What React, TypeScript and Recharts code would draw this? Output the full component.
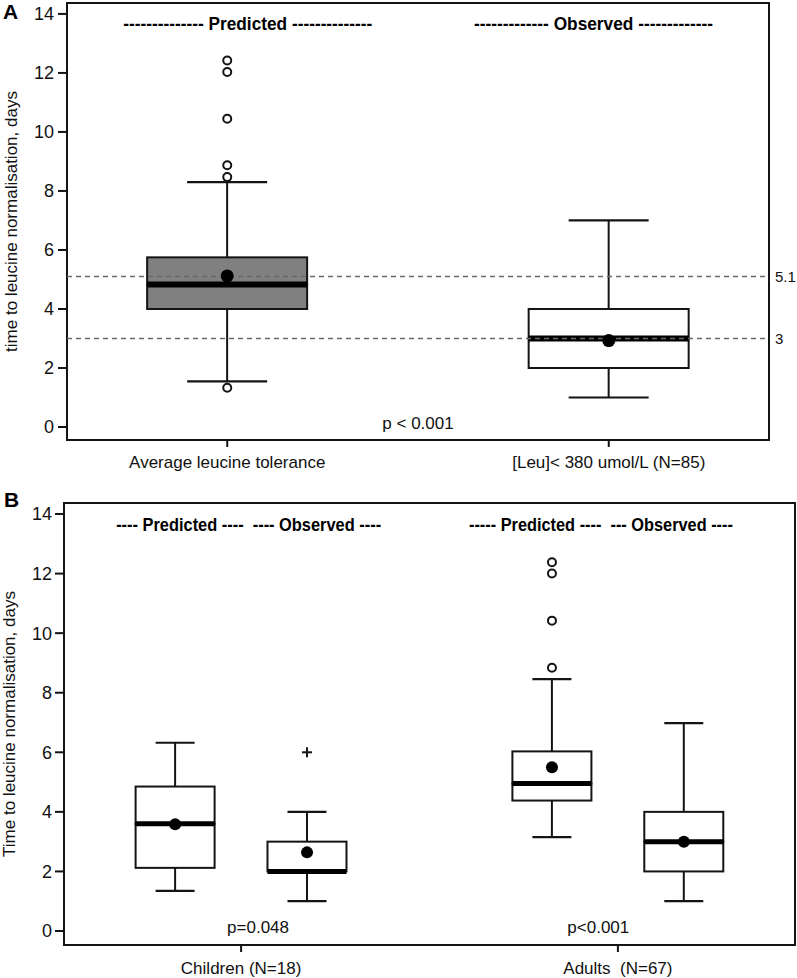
import React from 'react';
import { ComposedChart, Bar, Scatter, XAxis, YAxis, ReferenceLine, ReferenceArea } from 'recharts';

// ---------------- Panel A data ----------------
const categoriesA = ['Average leucine tolerance', '[Leu]< 380 umol/L (N=85)'];
const kindsA = ['Predicted', 'Observed'];
const headersA = ['-------------- Predicted --------------', '------------- Observed -------------'];
const minA = [1.55, 1.0];
const q1A = [4.0, 2.0];
const medianA = [4.83, 3.0];
const q3A = [5.75, 4.0];
const maxA = [8.3, 7.0];
const meanA = [5.12, 2.93];
const outliersA = [1.33, 8.47, 8.87, 10.45, 12.03, 12.42]; // Predicted group
const refValuesA = [5.1, 3];
const refLabelsA = ['5.1', '3'];
const pValueA = 'p < 0.001';

// ---------------- Panel B data ----------------
const categoriesB = ['Children (N=18)', 'Adults \u00a0(N=67)'];
const headersB = ['---- Predicted ----  ---- Observed ----', '----- Predicted ----  --- Observed ----'];
const groupB = [0, 0, 1, 1];
const kindB = ['Predicted', 'Observed', 'Predicted', 'Observed'];
const minB = [1.35, 1.0, 3.15, 1.0];
const q1B = [2.12, 2.0, 4.38, 2.0];
const medianB = [3.6, 2.0, 4.95, 3.0];
const q3B = [4.85, 3.0, 6.03, 4.0];
const maxB = [6.32, 4.0, 8.46, 6.98];
const meanB = [3.58, 2.64, 5.5, 3.0];
const outlierCirclesB = [8.84, 10.42, 12.0, 12.38]; // Adults, Predicted
const outlierPlusB = [6.0]; // Children, Observed
const pValuesB = ['p=0.048', 'p<0.001'];

const yTicks = [0, 2, 4, 6, 8, 10, 12, 14];

// ---------------- layout / style constants ----------------
const INK = '#141414';
const X_DOMAIN_A: [number, number] = [-0.42, 1.42];
const X_DOMAIN_B: [number, number] = [-0.47, 1.47];
const Y_DOMAIN_A: [number, number] = [-0.44, 14.37];
const Y_DOMAIN_B: [number, number] = [-0.47, 14.37];
const kindOffsetB: Record<string, number> = { Predicted: -0.175, Observed: 0.175 };
const fillA: Record<string, string> = { Predicted: '#808080', Observed: '#ffffff' };
const fillB: Record<string, string> = { Predicted: '#ffffff', Observed: '#ffffff' };
const headerXA = [0.054, 0.96];
const headerWidthA = [249, 239];
const headerXB = [0.02, 0.955];
const headerWidthB = [265, 264];
const headerY = 13.66;
const pX_A = 0.5;
const pX_B = [0.045, 0.948];
const pY = 0.13;

// ---------------- table building ----------------
function buildRow(x: number, kind: string, mn: number, q1: number, md: number, q3: number, mx: number, mean: number) {
  return {
    x,
    kind,
    base: mn,
    wLow: q1 - mn,
    boxLow: md - q1,
    boxHigh: q3 - md,
    wHigh: mx - q3,
    mean,
  };
}

const rowsA = categoriesA.map((_, i) => buildRow(i, kindsA[i], minA[i], q1A[i], medianA[i], q3A[i], maxA[i], meanA[i]));
const rowsB = groupB.map((g, i) =>
  buildRow(g + kindOffsetB[kindB[i]], kindB[i], minB[i], q1B[i], medianB[i], q3B[i], maxB[i], meanB[i])
);

const outlierPtsA = outliersA.map((y) => ({ x: 0, y }));
const outlierPtsB = outlierCirclesB.map((y) => ({ x: 1 + kindOffsetB.Predicted, y }));
const plusPtsB = outlierPlusB.map((y) => ({ x: 0 + kindOffsetB.Observed, y }));

const headerPtsA = headersA.map((t, i) => ({ x: headerXA[i], y: headerY, label: t, w: headerWidthA[i] }));
const headerPtsB = headersB.map((t, i) => ({ x: headerXB[i], y: headerY - 0.04, label: t, w: headerWidthB[i] }));
const pPtsA = [{ x: pX_A, y: pY, label: pValueA }];
const pPtsB = pValuesB.map((t, i) => ({ x: pX_B[i], y: pY, label: t }));

// ---------------- shapes ----------------
const emptyShape = () => <g />;

const makeWhisker = (cap: number, end: 'top' | 'bottom') => (p: any) => {
  if (p.height == null || p.width == null || p.x == null) return <g />;
  const cx = p.x + p.width / 2;
  const yEnd = end === 'top' ? p.y : p.y + p.height;
  return (
    <g>
      <line x1={cx} x2={cx} y1={p.y} y2={p.y + p.height} stroke={INK} strokeWidth={2} />
      <line x1={cx - cap / 2} x2={cx + cap / 2} y1={yEnd} y2={yEnd} stroke={INK} strokeWidth={2.2} />
    </g>
  );
};

const makeBox = (fills: Record<string, string>, boxW: number, medianW: number, withMedian: boolean) => (p: any) => {
  if (p.height == null || p.width == null || p.x == null) return <g />;
  const cx = p.x + p.width / 2;
  const left = cx - boxW / 2;
  const fill = fills[p.payload?.kind] ?? '#fff';
  return (
    <g>
      <rect x={left} y={p.y} width={boxW} height={Math.max(0, p.height)} fill={fill} stroke={INK} strokeWidth={2} />
      {withMedian && (
        <line x1={left} x2={left + boxW} y1={p.y + p.height} y2={p.y + p.height} stroke="#000" strokeWidth={medianW} />
      )}
    </g>
  );
};

const makeDot = (r: number) => (p: any) => <circle cx={p.cx} cy={p.cy} r={r} fill="#000" />;
const openCircle = (p: any) => <circle cx={p.cx} cy={p.cy} r={4} fill="#fff" stroke={INK} strokeWidth={2} />;
const plusShape = (p: any) => (
  <g stroke={INK} strokeWidth={2}>
    <line x1={p.cx - 5} x2={p.cx + 5} y1={p.cy} y2={p.cy} />
    <line x1={p.cx} x2={p.cx} y1={p.cy - 5} y2={p.cy + 5} />
  </g>
);
const headerShape = (p: any) => (
  <text
    x={p.cx}
    y={p.cy}
    textAnchor="middle"
    dominantBaseline="central"
    fontSize={18}
    fontWeight="bold"
    fill="#000"
    textLength={p.payload.w}
    lengthAdjust="spacingAndGlyphs"
    style={{ whiteSpace: 'pre', fontFamily: "'Liberation Sans', Arial, sans-serif" }}
  >
    {p.payload.label}
  </text>
);
const pShape = (p: any) => (
  <text x={p.cx} y={p.cy} textAnchor="middle" dominantBaseline="central" fontSize={17} fill="#111">
    {p.payload.label}
  </text>
);

const tickLine = { stroke: INK, strokeWidth: 2 };

export default function App() {
  return (
    <div
      style={{
        position: 'absolute',
        left: 0,
        top: 0,
        width: 797,
        height: 978,
        background: '#fff',
        fontFamily: "'Liberation Sans', Arial, sans-serif",
        overflow: 'hidden',
      }}
    >
      {/* Panel A */}
      <div style={{ position: 'absolute', left: 0, top: 0 }}>
        <ComposedChart width={797} height={478} data={rowsA} margin={{ top: 3, right: 28, bottom: 8, left: 7 }}>
          <XAxis
            dataKey="x"
            type="number"
            domain={X_DOMAIN_A}
            allowDataOverflow
            ticks={[0, 1]}
            interval={0}
            tickFormatter={(v: number) => categoriesA[v] ?? ''}
            axisLine={false}
            tickLine={tickLine}
            tickSize={7}
            tickMargin={9}
            tick={{ fill: '#111', fontSize: 17 }}
            height={30}
          />
          <YAxis
            type="number"
            domain={Y_DOMAIN_A}
            allowDataOverflow
            ticks={yTicks}
            interval={0}
            width={60}
            axisLine={false}
            tickLine={tickLine}
            tickSize={9}
            tickMargin={4}
            tick={{ fill: '#111', fontSize: 18 }}
            label={{
              value: 'time to leucine normalisation, days',
              angle: -90,
              position: 'insideLeft',
              offset: 4,
              style: { textAnchor: 'middle', fontSize: 17, fill: '#111' },
            }}
          />
          <Bar dataKey="base" stackId="s" shape={emptyShape} isAnimationActive={false} />
          <Bar dataKey="wLow" stackId="s" shape={makeWhisker(80, 'bottom')} isAnimationActive={false} />
          <Bar dataKey="boxLow" stackId="s" shape={makeBox(fillA, 160, 6, false)} isAnimationActive={false} />
          <Bar dataKey="boxHigh" stackId="s" shape={makeBox(fillA, 160, 6, true)} isAnimationActive={false} />
          <Bar dataKey="wHigh" stackId="s" shape={makeWhisker(80, 'top')} isAnimationActive={false} />
          {refValuesA.map((v, i) => (
            <ReferenceLine
              key={v}
              y={v}
              stroke="#6a6a6a"
              strokeWidth={1.6}
              strokeDasharray="5 4"
              label={{ value: refLabelsA[i], position: 'right', offset: 6, fill: '#111', fontSize: 15 }}
            />
          ))}
          <Scatter dataKey="mean" shape={makeDot(6.5)} isAnimationActive={false} />
          <Scatter data={outlierPtsA} dataKey="y" shape={openCircle} isAnimationActive={false} />
          <Scatter data={headerPtsA} dataKey="y" shape={headerShape} isAnimationActive={false} />
          <Scatter data={pPtsA} dataKey="y" shape={pShape} isAnimationActive={false} />
          <ReferenceArea
            x1={X_DOMAIN_A[0]}
            x2={X_DOMAIN_A[1]}
            y1={Y_DOMAIN_A[0]}
            y2={Y_DOMAIN_A[1]}
            fill="none"
            stroke={INK}
            strokeWidth={2}
            ifOverflow="visible"
          />
        </ComposedChart>
      </div>

      {/* Panel B */}
      <div style={{ position: 'absolute', left: 0, top: 478 }}>
        <ComposedChart width={797} height={500} data={rowsB} margin={{ top: 25, right: 2, bottom: 3, left: 4 }}>
          <XAxis
            dataKey="x"
            type="number"
            domain={X_DOMAIN_B}
            allowDataOverflow
            ticks={[0, 1]}
            interval={0}
            tickFormatter={(v: number) => categoriesB[v] ?? ''}
            axisLine={false}
            tickLine={tickLine}
            tickSize={7}
            tickMargin={10}
            tick={{ fill: '#111', fontSize: 17 }}
            height={30}
          />
          <YAxis
            type="number"
            domain={Y_DOMAIN_B}
            allowDataOverflow
            ticks={yTicks}
            interval={0}
            width={60}
            axisLine={false}
            tickLine={tickLine}
            tickSize={9}
            tickMargin={3}
            tick={{ fill: '#111', fontSize: 18 }}
            label={{
              value: 'Time to leucine normalisation, days',
              angle: -90,
              position: 'insideLeft',
              offset: 5,
              style: { textAnchor: 'middle', fontSize: 17, fill: '#111' },
            }}
          />
          <Bar dataKey="base" stackId="s" shape={emptyShape} isAnimationActive={false} />
          <Bar dataKey="wLow" stackId="s" shape={makeWhisker(39, 'bottom')} isAnimationActive={false} />
          <Bar dataKey="boxLow" stackId="s" shape={makeBox(fillB, 79, 5, false)} isAnimationActive={false} />
          <Bar dataKey="boxHigh" stackId="s" shape={makeBox(fillB, 79, 5, true)} isAnimationActive={false} />
          <Bar dataKey="wHigh" stackId="s" shape={makeWhisker(39, 'top')} isAnimationActive={false} />
          <Scatter dataKey="mean" shape={makeDot(6)} isAnimationActive={false} />
          <Scatter data={outlierPtsB} dataKey="y" shape={openCircle} isAnimationActive={false} />
          <Scatter data={plusPtsB} dataKey="y" shape={plusShape} isAnimationActive={false} />
          <Scatter data={headerPtsB} dataKey="y" shape={headerShape} isAnimationActive={false} />
          <Scatter data={pPtsB} dataKey="y" shape={pShape} isAnimationActive={false} />
          <ReferenceArea
            x1={X_DOMAIN_B[0]}
            x2={X_DOMAIN_B[1]}
            y1={Y_DOMAIN_B[0]}
            y2={Y_DOMAIN_B[1]}
            fill="none"
            stroke={INK}
            strokeWidth={2}
            ifOverflow="visible"
          />
        </ComposedChart>
      </div>

      {/* Panel letters */}
      <div style={{ position: 'absolute', left: 3, top: 1, fontSize: 21, fontWeight: 'bold', lineHeight: 1 }}>A</div>
      <div style={{ position: 'absolute', left: 4, top: 489, fontSize: 21, fontWeight: 'bold', lineHeight: 1 }}>B</div>
    </div>
  );
}
